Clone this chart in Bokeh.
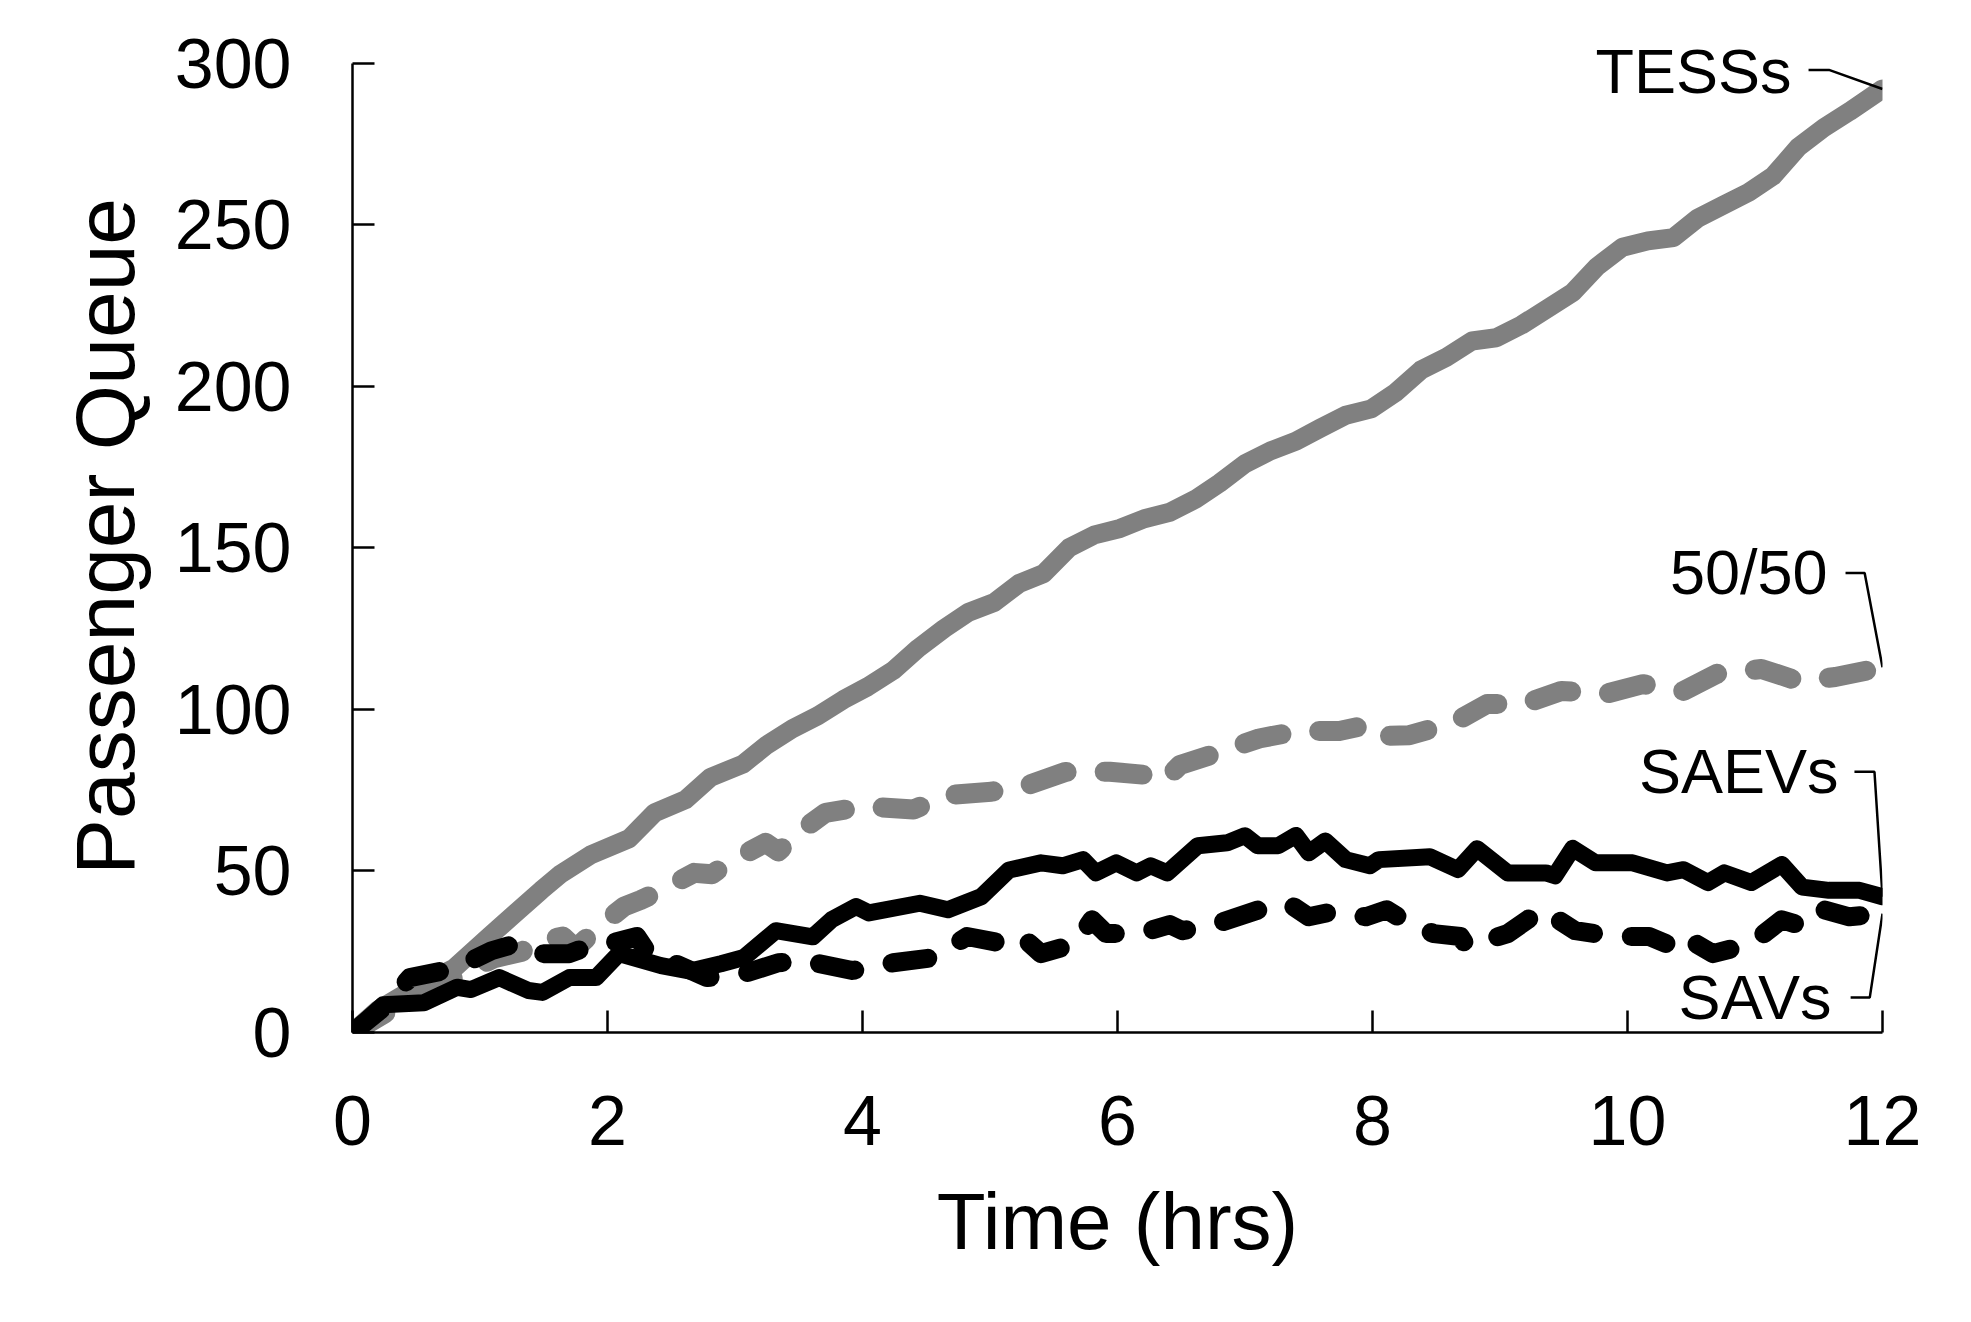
from bokeh.plotting import figure
from bokeh.models import FixedTicker, Label
from bokeh.embed import file_html
from bokeh.resources import INLINE

# ---- data ----
tess_t = [0, 0.2, 0.5, 0.8, 1.08, 1.28, 1.48, 1.63, 1.87, 2.17, 2.37, 2.61, 2.81, 3.06, 3.25,
          3.45, 3.65, 3.85, 4.04, 4.24, 4.44, 4.64, 4.83, 5.03, 5.23, 5.42, 5.62, 5.82, 6.02,
          6.21, 6.41, 6.61, 6.8, 7.0, 7.2, 7.4, 7.59, 7.79, 7.99, 8.18, 8.38, 8.58, 8.78, 8.97,
          9.17, 9.37, 9.57, 9.76, 9.96, 10.16, 10.36, 10.55, 10.75, 10.95, 11.14, 11.34, 11.54,
          11.74, 12]
tess_v = [0, 7, 14, 20, 30, 37, 44, 49, 55, 60, 68, 72, 79, 83, 89, 94, 98, 103, 107, 112, 119,
          125, 130, 133, 139, 142, 150, 154, 156, 159, 161, 165, 170, 176, 180, 183, 187, 191,
          193, 198, 205, 209, 214, 215, 219, 224, 229, 237, 243, 245, 246, 252, 256, 260, 265,
          274, 280, 285, 292]

mix_t = [0, 0.24, 0.51, 0.8, 1.11, 1.33, 1.38, 1.65, 1.75, 1.94, 2.13, 2.26, 2.42, 2.68, 2.82,
         2.97, 3.24, 3.34, 3.5, 3.71, 4.03, 4.4, 4.67, 5.01, 5.15, 5.3, 5.59, 5.94, 6.23, 6.36,
         6.49, 6.78, 7.11, 7.42, 7.74, 8.0, 8.11, 8.29, 8.64, 8.9, 9.19, 9.48, 9.83, 10.12,
         10.44, 10.7, 11.05, 11.34, 11.63, 12]
mix_v = [0, 5.6, 11.7, 17, 23, 25, 27.5, 29.7, 26, 33, 39, 41, 44, 49.4, 49, 53, 58.7, 56, 62,
         68, 70, 69, 73.5, 74.5, 75.5, 76.6, 80.6, 80.7, 79.7, 77.6, 82.8, 86.5, 91, 93.3, 93.3,
         95.5, 91.8, 92, 96, 101.7, 101.7, 105.7, 104.8, 107.8, 105.7, 111, 112.5, 108.8, 110,
         113]

saev_t = [0, 0.24, 0.56, 0.82, 0.93, 1.15, 1.38, 1.49, 1.7, 1.91, 2.09, 2.42, 2.65, 2.89, 3.07,
          3.32, 3.61, 3.76, 3.95, 4.05, 4.45, 4.67, 4.93, 5.15, 5.4, 5.57, 5.73, 5.83, 5.99,
          6.15, 6.26, 6.39, 6.63, 6.86, 7.0, 7.1, 7.26, 7.4, 7.5, 7.63, 7.79, 7.98, 8.05, 8.45,
          8.67, 8.82, 9.06, 9.36, 9.43, 9.57, 9.75, 10.04, 10.31, 10.44, 10.63, 10.76, 10.97,
          11.21, 11.37, 11.58, 11.82, 12]
saev_v = [0, 8.6, 9.2, 14, 13.3, 17, 13, 12.4, 17, 17, 24.4, 20.7, 19, 21.3, 23.2, 31.5, 29.6,
          35, 39, 37, 40, 38, 42, 50.3, 52.5, 51.6, 53.5, 49.4, 52.5, 49.4, 51.6, 49.4, 57.8,
          58.7, 60.9, 57.8, 57.8, 61, 55.6, 59.3, 53.5, 51.6, 53.5, 54.4, 50.4, 56.9, 49.4, 49.4,
          48.5, 57, 52.5, 52.5, 49.4, 50.4, 46.4, 49.4, 46.4, 52, 45, 44, 44, 42]

sav_t = [0, 0.27, 0.45, 0.8, 1.09, 1.28, 1.43, 1.7, 1.91, 2.01, 2.23, 2.34, 2.55, 2.78, 3.07,
         3.34, 3.61, 3.66, 3.92, 4.05, 4.24, 4.56, 4.82, 5.11, 5.25, 5.4, 5.67, 5.8, 5.91, 6.17,
         6.41, 6.51, 6.78, 7.11, 7.34, 7.5, 7.69, 7.95, 8.11, 8.24, 8.48, 8.69, 8.74, 9.06,
         9.33, 9.59, 9.9, 10.17, 10.36, 10.44, 10.67, 10.97, 11.21, 11.31, 11.45, 11.74, 12]
sav_v = [0, 8.6, 17, 19.8, 25.3, 27.5, 24.4, 24.4, 27.5, 27.5, 29.7, 23.2, 21, 17, 18.2, 21.6,
         22.2, 21.3, 19.2, 20, 21.6, 23.2, 29.7, 27.5, 29.7, 24.4, 27.5, 34.9, 30.6, 30.6, 33.4,
         31.5, 33.7, 38, 40, 35.8, 37.4, 35.8, 38, 34.9, 30.6, 29.7, 26.6, 30.6, 38, 31.5, 29.7,
         29.7, 26.6, 29.7, 24.4, 27.5, 34.9, 33.7, 39, 35.8, 36.8]

series_names = ["TESSs", "50/50", "SAEVs", "SAVs"]
x_ticks = [0, 2, 4, 6, 8, 10, 12]
y_ticks = [0, 50, 100, 150, 200, 250, 300]

FONT = "Liberation Sans"

# y range extended slightly above 300 so the top series label is not clipped;
# the y axis itself is bounded to 0..300
p = figure(width=1950, height=1300, output_backend="svg", toolbar_location=None,
           x_range=(0, 12), y_range=(0, 307),
           min_border_left=352, min_border_right=68, min_border_top=40, min_border_bottom=268)
p.background_fill_color = "white"
p.border_fill_color = "white"
p.outline_line_color = None
p.grid.visible = False

GRAY = "#808080"
p.line(tess_t, tess_v, line_color=GRAY, line_width=19, line_cap="round", line_join="round")
p.line(mix_t, mix_v, line_color=GRAY, line_width=20, line_dash="38 38",
       line_cap="round", line_join="round")
p.line(saev_t, saev_v, line_color="black", line_width=17, line_cap="round", line_join="round")
p.line(sav_t, sav_v, line_color="black", line_width=19, line_dash="36 38",
       line_cap="round", line_join="round")

# axes
for ax in (p.xaxis[0], p.yaxis[0]):
    ax.axis_line_width = 2.5
    ax.axis_line_color = "black"
    ax.major_tick_line_width = 2.5
    ax.major_tick_line_color = "black"
    ax.major_tick_in = 22
    ax.major_tick_out = 0
    ax.minor_tick_line_color = None
    ax.major_label_text_font = FONT
    ax.major_label_text_font_size = "70px"
    ax.major_label_text_color = "black"
    ax.axis_label_text_font = FONT
    ax.axis_label_text_font_style = "normal"
    ax.axis_label_text_color = "black"

p.xaxis.ticker = FixedTicker(ticks=x_ticks)
p.yaxis.ticker = FixedTicker(ticks=y_ticks)
p.yaxis.bounds = (0, 300)
p.xaxis.axis_label = "Time (hrs)"
p.yaxis.axis_label = "Passenger Queue"
p.xaxis.axis_label_text_font_size = "80px"
p.yaxis.axis_label_text_font_size = "84px"
p.xaxis.major_label_standoff = 63
p.xaxis.axis_label_standoff = 29
p.yaxis.major_label_standoff = 61
p.yaxis.axis_label_standoff = 20

# series labels with leader lines (label anchor in data coords; leader ends at last value)
ends = [tess_v[-1], mix_v[-1], saev_v[-1], sav_v[-1]]
label_x = [11.286, 11.569, 11.655, 11.60]
label_y = [297.7, 142.5, 81.0, 10.9]
leader_x0 = [11.42, 11.71, 11.78, 11.75]
leader_x1 = [11.58, 11.86, 11.937, 11.90]
leader_y = [297.9, 142.2, 80.7, 10.8]

for name, lx, ly, x0, x1, yl, ye in zip(series_names, label_x, label_y, leader_x0,
                                          leader_x1, leader_y, ends):
    p.add_layout(Label(x=lx, y=ly, text=name, text_align="right", text_baseline="alphabetic",
                       text_font=FONT, text_font_size="63px", text_color="black"))
    p.line([x0, x1, 12], [yl, yl, ye], line_color="black", line_width=2.5)

open("out.html", "w").write(file_html(p, INLINE))
